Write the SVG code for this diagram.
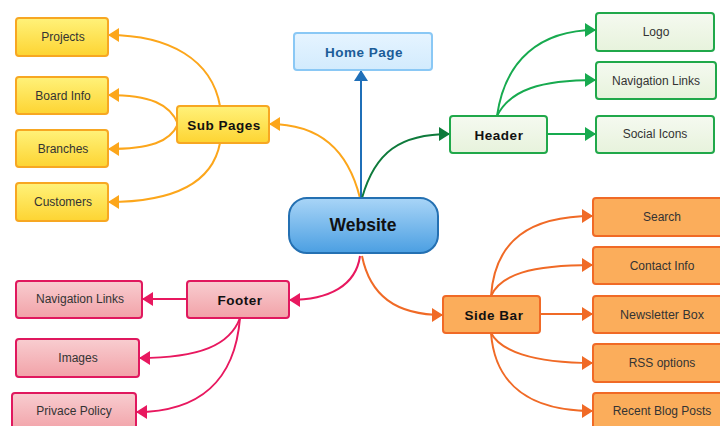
<svg xmlns="http://www.w3.org/2000/svg" width="720" height="426" viewBox="0 0 720 426">
<defs>
<linearGradient id="gY" x1="0" y1="0" x2="0" y2="1"><stop offset="0" stop-color="#fff27a"/><stop offset="1" stop-color="#fdd432"/></linearGradient>
<linearGradient id="gB" x1="0" y1="0" x2="0" y2="1"><stop offset="0" stop-color="#a9d5f7"/><stop offset="1" stop-color="#4b9fe2"/></linearGradient>
<linearGradient id="gH" x1="0" y1="0" x2="0" y2="1"><stop offset="0" stop-color="#e6f4ff"/><stop offset="1" stop-color="#d2ebfd"/></linearGradient>
<linearGradient id="gG" x1="0" y1="0" x2="0" y2="1"><stop offset="0" stop-color="#f5f9f0"/><stop offset="1" stop-color="#e7f3dc"/></linearGradient>
<linearGradient id="gP" x1="0" y1="0" x2="0" y2="1"><stop offset="0" stop-color="#f8cdd0"/><stop offset="1" stop-color="#f2a2a8"/></linearGradient>
<marker id="mY" viewBox="0 0 10 10" refX="10" refY="5" markerWidth="11" markerHeight="14" markerUnits="userSpaceOnUse" orient="auto" preserveAspectRatio="none"><path d="M0,0 L10,5 L0,10 z" fill="#fca61b"/></marker>
<marker id="mB" viewBox="0 0 10 10" refX="10" refY="5" markerWidth="11" markerHeight="14" markerUnits="userSpaceOnUse" orient="auto" preserveAspectRatio="none"><path d="M0,0 L10,5 L0,10 z" fill="#1f6fb8"/></marker>
<marker id="mDG" viewBox="0 0 10 10" refX="10" refY="5" markerWidth="11" markerHeight="14" markerUnits="userSpaceOnUse" orient="auto" preserveAspectRatio="none"><path d="M0,0 L10,5 L0,10 z" fill="#0e7a3b"/></marker>
<marker id="mG" viewBox="0 0 10 10" refX="10" refY="5" markerWidth="11" markerHeight="14" markerUnits="userSpaceOnUse" orient="auto" preserveAspectRatio="none"><path d="M0,0 L10,5 L0,10 z" fill="#17aa4f"/></marker>
<marker id="mP" viewBox="0 0 10 10" refX="10" refY="5" markerWidth="11" markerHeight="14" markerUnits="userSpaceOnUse" orient="auto" preserveAspectRatio="none"><path d="M0,0 L10,5 L0,10 z" fill="#e8185f"/></marker>
<marker id="mO" viewBox="0 0 10 10" refX="10" refY="5" markerWidth="11" markerHeight="14" markerUnits="userSpaceOnUse" orient="auto" preserveAspectRatio="none"><path d="M0,0 L10,5 L0,10 z" fill="#f06a26"/></marker>
</defs>
<style>
text{font-family:"Liberation Sans",Arial,sans-serif;text-anchor:middle;dominant-baseline:central;}
.s{font-size:12px;fill:#333;}
.b{font-size:13.5px;font-weight:bold;fill:#111;letter-spacing:0.5px;}
.c{fill:none;stroke-width:2;}
.yb{fill:url(#gY);stroke:#f7a722;stroke-width:2;}
.gb{fill:url(#gG);stroke:#20a84a;stroke-width:2;}
.pb{fill:url(#gP);stroke:#e0185e;stroke-width:2;}
.ob{fill:#fbad5b;stroke:#f06a26;stroke-width:2;}
.cy{stroke:#fca61b;marker-end:url(#mY);}
.cg{stroke:#17aa4f;marker-end:url(#mG);}
.cp{stroke:#e8185f;marker-end:url(#mP);}
.co{stroke:#f06a26;marker-end:url(#mO);}
</style>
<rect width="720" height="426" fill="#fff"/>
<g id="connectors">
<path class="c cy" d="M360,198 C348,150 320,124 269,124"/>
<path class="c cy" d="M220,106 C212,60 170,35 108,35"/>
<path class="c cy" d="M178,124 C170,104 150,95 108,95"/>
<path class="c cy" d="M178,124 C170,142 150,149 108,149"/>
<path class="c cy" d="M220,143 C212,185 170,202 108,202"/>
<path class="c" stroke="#1f6fb8" marker-end="url(#mB)" d="M361,198 L361,70"/>
<path class="c" stroke="#0e7a3b" marker-end="url(#mDG)" d="M362,198 C375,152 400,134 450,134"/>
<path class="c cg" d="M497,116 C505,60 540,30 596,30"/>
<path class="c cg" d="M497,116 C510,90 540,80 596,80"/>
<path class="c cg" d="M547,134 L596,134"/>
<path class="c cp" d="M360,256 C356,285 330,300 289,300"/>
<path class="c cp" d="M187,299 L142,299"/>
<path class="c cp" d="M240,318 C230,345 200,358 139,358"/>
<path class="c cp" d="M240,318 C235,380 200,412 136,412"/>
<path class="c co" d="M362,256 C370,295 395,315 443,315"/>
<path class="c co" d="M491,296 C495,240 530,216 593,216"/>
<path class="c co" d="M491,296 C500,275 530,265 593,265"/>
<path class="c co" d="M540,314 L593,314"/>
<path class="c co" d="M491,333 C500,350 530,363 593,363"/>
<path class="c co" d="M491,333 C495,385 530,411 593,411"/>
</g>
<g id="website"><rect x="289" y="198" width="149" height="55" rx="18" fill="url(#gB)" stroke="#2470b2" stroke-width="2"/><text x="363" y="225" style="font-size:17.5px;font-weight:bold;fill:#111">Website</text></g>
<g id="homepage"><rect x="294" y="33" width="138" height="37" rx="3" fill="url(#gH)" stroke="#8ac8f5" stroke-width="2"/><text x="364" y="52" class="b" style="fill:#1b5c98">Home Page</text></g>
<g id="subpages"><rect class="yb" x="177" y="106" width="92" height="37" rx="3"/><text x="224" y="125" class="b">Sub Pages</text></g>
<g id="projects"><rect class="yb" x="16" y="18" width="92" height="38" rx="3"/><text x="63" y="37" class="s">Projects</text></g>
<g id="boardinfo"><rect class="yb" x="16" y="77" width="92" height="37" rx="3"/><text x="63" y="96" class="s">Board Info</text></g>
<g id="branches"><rect class="yb" x="16" y="130" width="92" height="37" rx="3"/><text x="63" y="149" class="s">Branches</text></g>
<g id="customers"><rect class="yb" x="16" y="183" width="92" height="38" rx="3"/><text x="63" y="202" class="s">Customers</text></g>
<g id="header"><rect class="gb" x="450" y="116" width="97" height="37" rx="3"/><text x="499" y="135" class="b">Header</text></g>
<g id="logo"><rect class="gb" x="596" y="13" width="118" height="38" rx="3"/><text x="656" y="32" class="s">Logo</text></g>
<g id="navlinks"><rect class="gb" x="596" y="62" width="120" height="37" rx="3"/><text x="656" y="81" class="s">Navigation Links</text></g>
<g id="socialicons"><rect class="gb" x="596" y="116" width="118" height="37" rx="3"/><text x="655" y="134" class="s">Social Icons</text></g>
<g id="footer"><rect class="pb" x="187" y="281" width="102" height="37" rx="3"/><text x="240" y="300" class="b">Footer</text></g>
<g id="footnav"><rect class="pb" x="16" y="281" width="126" height="37" rx="3"/><text x="80" y="299" class="s">Navigation Links</text></g>
<g id="images"><rect class="pb" x="16" y="339" width="123" height="38" rx="3"/><text x="78" y="358" class="s">Images</text></g>
<g id="privacy"><rect class="pb" x="12" y="393" width="124" height="38" rx="3"/><text x="74" y="411" class="s">Privace Policy</text></g>
<g id="sidebar"><rect class="ob" x="443" y="296" width="97" height="37" rx="3"/><text x="494" y="315" class="b">Side Bar</text></g>
<g id="search"><rect class="ob" x="593" y="198" width="138" height="38" rx="3"/><text x="662" y="217" class="s">Search</text></g>
<g id="contact"><rect class="ob" x="593" y="247" width="138" height="37" rx="3"/><text x="662" y="266" class="s">Contact Info</text></g>
<g id="newsletter"><rect class="ob" x="593" y="296" width="138" height="37" rx="3"/><text x="662" y="315" class="s" style="font-size:12.5px">Newsletter Box</text></g>
<g id="rss"><rect class="ob" x="593" y="344" width="138" height="38" rx="3"/><text x="662" y="363" class="s">RSS options</text></g>
<g id="recent"><rect class="ob" x="593" y="393" width="138" height="38" rx="3"/><text x="662" y="411" class="s">Recent Blog Posts</text></g>
</svg>
